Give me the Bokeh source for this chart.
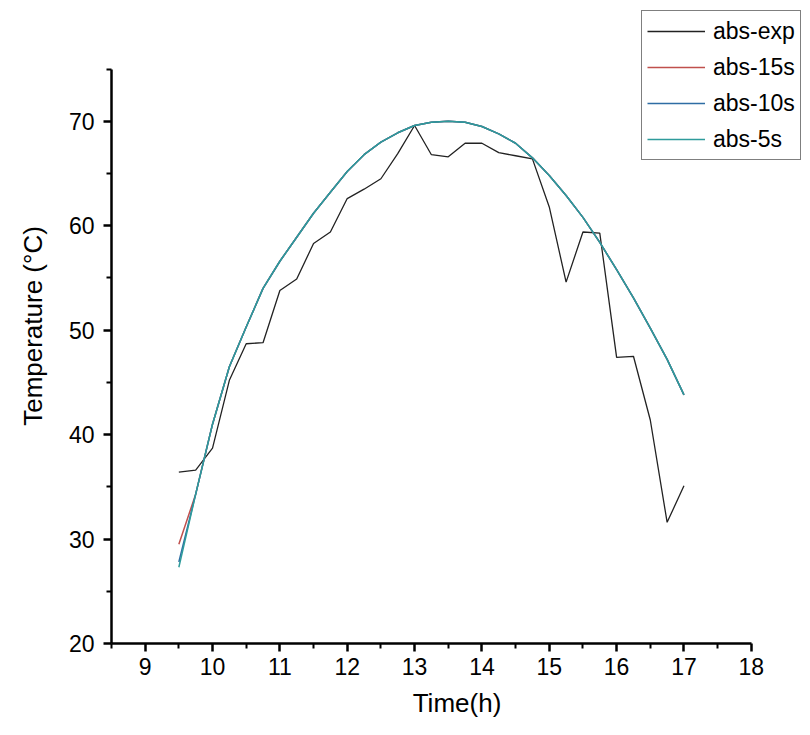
from bokeh.plotting import figure
from bokeh.models import Legend, LegendItem, FixedTicker, Range1d
from bokeh.embed import file_html
from bokeh.resources import INLINE

time_h = [9.5, 9.75, 10.0, 10.25, 10.5, 10.75, 11.0, 11.25, 11.5, 11.75, 12.0, 12.25,
          12.5, 12.75, 13.0, 13.25, 13.5, 13.75, 14.0, 14.25, 14.5, 14.75, 15.0, 15.25,
          15.5, 15.75, 16.0, 16.25, 16.5, 16.75, 17.0]

abs_exp = [36.4, 36.6, 38.7, 45.2, 48.7, 48.8, 53.8, 54.9, 58.3, 59.4, 62.6, 63.5,
           64.5, 66.9, 69.6, 66.8, 66.6, 67.9, 67.9, 67.0, 66.7, 66.4, 61.8, 54.6,
           59.4, 59.3, 47.4, 47.5, 41.4, 31.6, 35.1]

fit_common = [34.3, 41.0, 46.5, 50.3, 54.0, 56.6, 58.9, 61.2, 63.2, 65.2, 66.8,
              68.0, 68.9, 69.6, 69.9, 70.0, 69.9, 69.5, 68.8, 67.9, 66.5, 64.8, 62.9,
              60.8, 58.4, 55.8, 53.1, 50.2, 47.2, 43.8]
abs_15s = [29.5] + fit_common
abs_10s = [27.8] + fit_common
abs_5s = [27.3] + fit_common

y_ticks = [20, 30, 40, 50, 60, 70]
y_minor = [25, 35, 45, 55, 65, 75]
x_ticks = [9, 10, 11, 12, 13, 14, 15, 16, 17, 18]
x_minor = [8.5, 9.5, 10.5, 11.5, 12.5, 13.5, 14.5, 15.5, 16.5, 17.5]

FONT = "Liberation Sans"

# frame extends beyond the axes so the legend can sit over the top-right corner
p = figure(width=802, height=722, output_backend="svg", toolbar_location=None,
           x_range=Range1d(8.5, 18.76), y_range=Range1d(20, 80.8),
           min_border_left=111, min_border_right=0, min_border_top=8,
           min_border_bottom=79)
p.outline_line_color = None
p.grid.visible = False
p.background_fill_color = "white"
p.border_fill_color = "white"

r_exp = p.line(time_h, abs_exp, line_color="#222222", line_width=1.3)
r_15 = p.line(time_h, abs_15s, line_color="#c0504d", line_width=1.5)
r_10 = p.line(time_h, abs_10s, line_color="#2e6da4", line_width=1.5)
r_5 = p.line(time_h, abs_5s, line_color="#2e9b9b", line_width=1.5)

for ax, ticks, minor, bounds in ((p.xaxis[0], x_ticks, x_minor, (8.5, 18)),
                                 (p.yaxis[0], y_ticks, y_minor, (20, 75))):
    ax.ticker = FixedTicker(ticks=ticks, minor_ticks=minor)
    ax.bounds = bounds
    ax.axis_line_width = 2.5
    ax.axis_line_color = "black"
    ax.major_tick_line_width = 2.5
    ax.minor_tick_line_width = 2
    ax.major_tick_out = 8
    ax.major_tick_in = 0
    ax.minor_tick_out = 5
    ax.minor_tick_in = 0
    ax.major_label_text_font = FONT
    ax.major_label_text_font_size = "23px"
    ax.major_label_text_color = "black"
    ax.axis_label_text_font = FONT
    ax.axis_label_text_font_size = "26px"
    ax.axis_label_text_font_style = "normal"
    ax.axis_label_text_color = "black"

p.xaxis.axis_label = "Time(h)"
p.yaxis.axis_label = "Temperature (°C)"
p.xaxis.major_label_standoff = 6
p.yaxis.major_label_standoff = 9
p.xaxis.axis_label_standoff = 10
p.yaxis.axis_label_standoff = 18

legend = Legend(items=[LegendItem(label="abs-exp", renderers=[r_exp]),
                       LegendItem(label="abs-15s", renderers=[r_15]),
                       LegendItem(label="abs-10s", renderers=[r_10]),
                       LegendItem(label="abs-5s", renderers=[r_5])],
                location=(530, 483), orientation="vertical",
                label_text_font=FONT, label_text_font_size="23px",
                label_text_color="black",
                glyph_width=58, glyph_height=30, label_height=30,
                spacing=6, padding=5, margin=0, label_standoff=8,
                border_line_color="black", border_line_width=1.5,
                background_fill_alpha=1.0)
p.add_layout(legend, "center")

open("out.html", "w").write(file_html(p, INLINE))
